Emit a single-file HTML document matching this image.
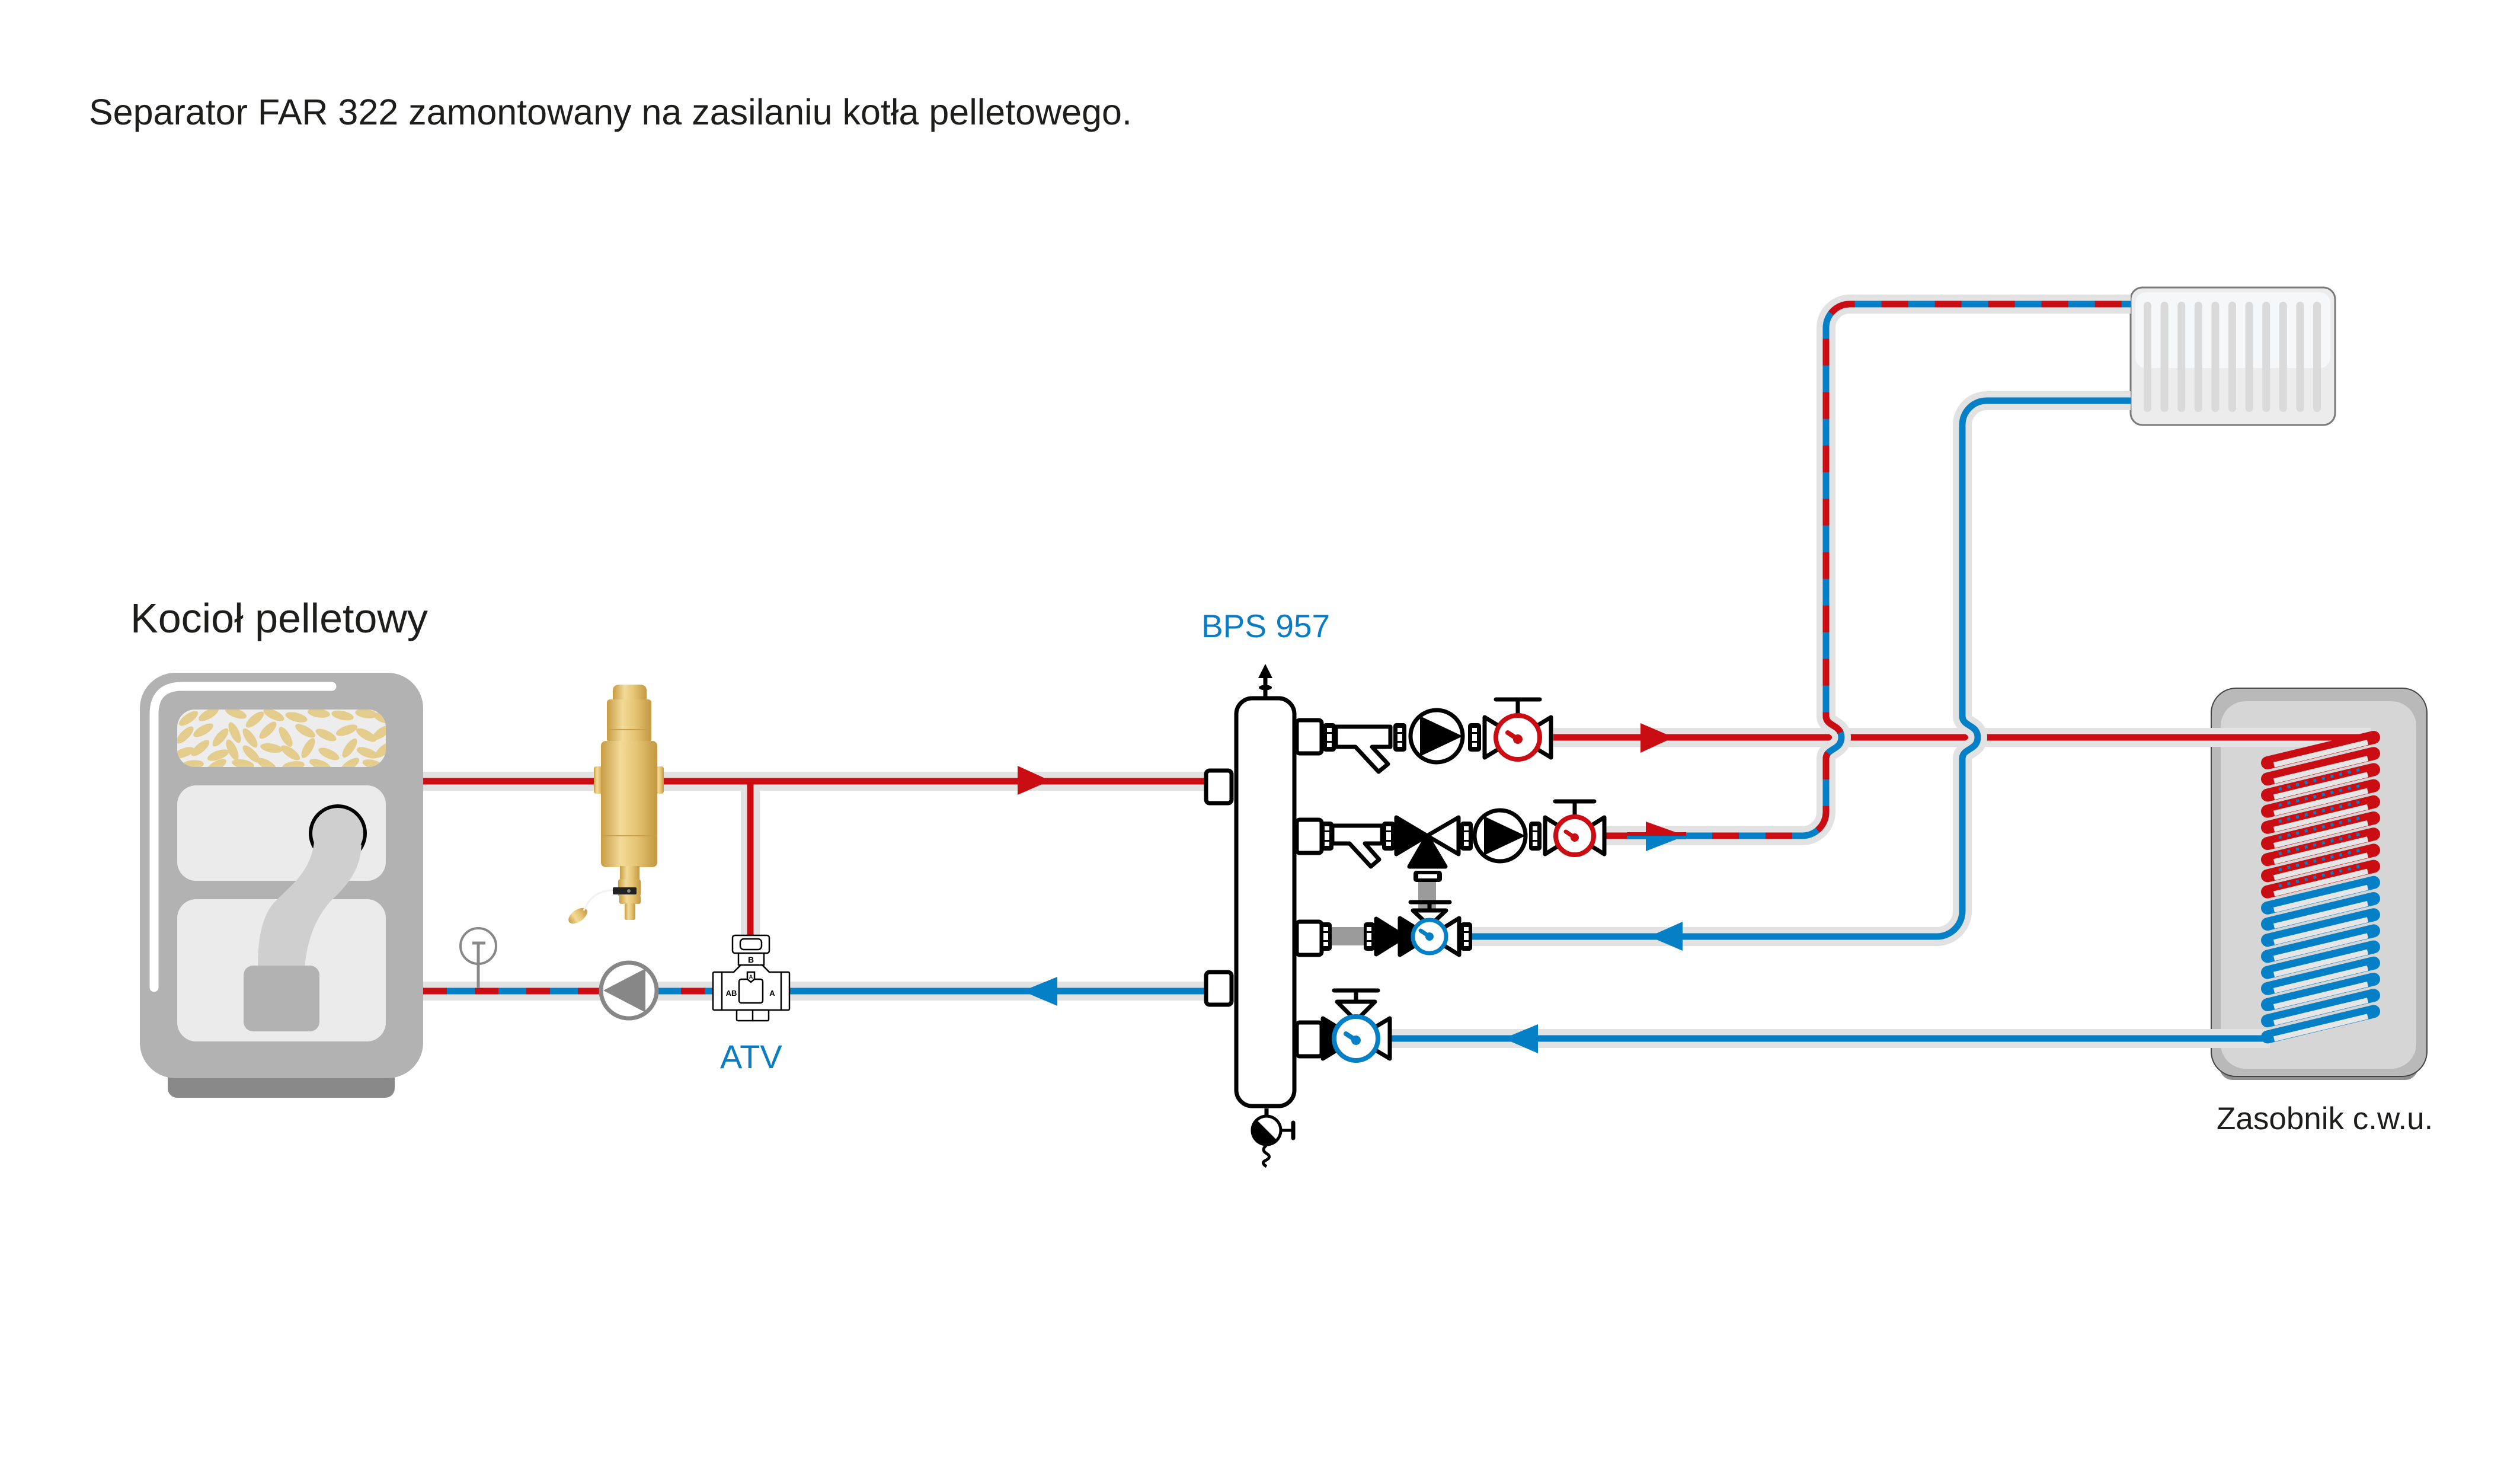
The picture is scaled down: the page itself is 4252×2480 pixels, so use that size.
<!DOCTYPE html>
<html><head><meta charset="utf-8">
<style>html,body{margin:0;padding:0;background:#fff;width:4252px;height:2480px;overflow:hidden}svg{display:block}</style>
</head><body>
<svg width="4252" height="2480" viewBox="0 0 4252 2480" xmlns="http://www.w3.org/2000/svg" xmlns:xlink="http://www.w3.org/1999/xlink">
<defs>
<linearGradient id="brass" x1="0" x2="1" y1="0" y2="0">
<stop offset="0" stop-color="#c89c44"/><stop offset="0.35" stop-color="#f2da98"/><stop offset="0.62" stop-color="#e6c575"/><stop offset="1" stop-color="#c39842"/>
</linearGradient>
<clipPath id="win"><rect x="299" y="1197" width="352" height="97" rx="30"/></clipPath>
<g id="cr"><line x1="3826" y1="1287" x2="4005" y2="1244" stroke="#c90d12" stroke-width="22" stroke-linecap="round"/><line x1="3837" y1="1290.4" x2="3995" y2="1252.4" stroke="#e6e6e6" stroke-width="9"/></g>
<g id="crd"><use xlink:href="#cr"/><line x1="3845" y1="1277" x2="3990" y2="1242" stroke="#0580c7" stroke-width="5" stroke-dasharray="5 10"/></g>
<g id="cb"><line x1="3826" y1="1287" x2="4005" y2="1244" stroke="#0580c7" stroke-width="22" stroke-linecap="round"/><line x1="3837" y1="1290.4" x2="3995" y2="1252.4" stroke="#e6e6e6" stroke-width="9"/></g>
</defs>

<!-- Title texts -->
<text x="150" y="210" font-family="Liberation Sans, sans-serif" font-size="61" fill="#1d1d1b">Separator FAR 322 zamontowany na zasilaniu kotła pelletowego.</text>
<text x="220" y="1067" font-family="Liberation Sans, sans-serif" font-size="70" fill="#1d1d1b">Kocioł pelletowy</text>
<text x="2027" y="1075" font-family="Liberation Sans, sans-serif" font-size="55" fill="#0a7cc4">BPS 957</text>
<text x="1215" y="1802" font-family="Liberation Sans, sans-serif" font-size="56" fill="#0a7cc4">ATV</text>
<text x="3740" y="1905" font-family="Liberation Sans, sans-serif" font-size="53" fill="#1d1d1b">Zasobnik c.w.u.</text>

<!-- Boiler -->
<rect x="283" y="1790" width="383" height="62" rx="16" fill="#898989"/>
<rect x="236" y="1135" width="478" height="684" rx="60" fill="#b2b2b2"/>
<path d="M260 1666 V1205 Q260 1158 307 1158 H560" stroke="#fff" stroke-width="15" stroke-linecap="round" fill="none"/>
<rect x="299" y="1197" width="352" height="97" rx="30" fill="#ededed"/>
<g clip-path="url(#win)" fill="#e3cc8c">
<ellipse cx="318" cy="1212" rx="19" ry="7.5" transform="rotate(-35 318 1212)"/>
<ellipse cx="352" cy="1205" rx="19" ry="7.5" transform="rotate(-30 352 1205)"/>
<ellipse cx="398" cy="1203" rx="19" ry="7.5" transform="rotate(20 398 1203)"/>
<ellipse cx="430" cy="1214" rx="19" ry="7.5" transform="rotate(-40 430 1214)"/>
<ellipse cx="462" cy="1206" rx="19" ry="7.5" transform="rotate(25 462 1206)"/>
<ellipse cx="500" cy="1210" rx="19" ry="7.5" transform="rotate(15 500 1210)"/>
<ellipse cx="538" cy="1203" rx="19" ry="7.5" transform="rotate(8 538 1203)"/>
<ellipse cx="578" cy="1207" rx="19" ry="7.5" transform="rotate(12 578 1207)"/>
<ellipse cx="618" cy="1204" rx="19" ry="7.5" transform="rotate(8 618 1204)"/>
<ellipse cx="648" cy="1212" rx="19" ry="7.5" transform="rotate(20 648 1212)"/>
<ellipse cx="312" cy="1240" rx="19" ry="7.5" transform="rotate(-45 312 1240)"/>
<ellipse cx="343" cy="1232" rx="19" ry="7.5" transform="rotate(-30 343 1232)"/>
<ellipse cx="372" cy="1244" rx="19" ry="7.5" transform="rotate(-50 372 1244)"/>
<ellipse cx="396" cy="1236" rx="19" ry="7.5" transform="rotate(65 396 1236)"/>
<ellipse cx="422" cy="1245" rx="19" ry="7.5" transform="rotate(55 422 1245)"/>
<ellipse cx="452" cy="1232" rx="19" ry="7.5" transform="rotate(-45 452 1232)"/>
<ellipse cx="482" cy="1243" rx="19" ry="7.5" transform="rotate(60 482 1243)"/>
<ellipse cx="515" cy="1233" rx="19" ry="7.5" transform="rotate(30 515 1233)"/>
<ellipse cx="550" cy="1240" rx="19" ry="7.5" transform="rotate(25 550 1240)"/>
<ellipse cx="585" cy="1232" rx="19" ry="7.5" transform="rotate(-20 585 1232)"/>
<ellipse cx="618" cy="1240" rx="19" ry="7.5" transform="rotate(30 618 1240)"/>
<ellipse cx="644" cy="1236" rx="19" ry="7.5" transform="rotate(-35 644 1236)"/>
<ellipse cx="310" cy="1270" rx="19" ry="7.5" transform="rotate(-20 310 1270)"/>
<ellipse cx="338" cy="1262" rx="19" ry="7.5" transform="rotate(-40 338 1262)"/>
<ellipse cx="368" cy="1274" rx="19" ry="7.5" transform="rotate(-20 368 1274)"/>
<ellipse cx="392" cy="1265" rx="19" ry="7.5" transform="rotate(65 392 1265)"/>
<ellipse cx="424" cy="1272" rx="19" ry="7.5" transform="rotate(45 424 1272)"/>
<ellipse cx="458" cy="1262" rx="19" ry="7.5" transform="rotate(10 458 1262)"/>
<ellipse cx="490" cy="1270" rx="19" ry="7.5" transform="rotate(35 490 1270)"/>
<ellipse cx="520" cy="1262" rx="19" ry="7.5" transform="rotate(-60 520 1262)"/>
<ellipse cx="555" cy="1272" rx="19" ry="7.5" transform="rotate(25 555 1272)"/>
<ellipse cx="590" cy="1262" rx="19" ry="7.5" transform="rotate(-55 590 1262)"/>
<ellipse cx="620" cy="1270" rx="19" ry="7.5" transform="rotate(20 620 1270)"/>
<ellipse cx="648" cy="1265" rx="19" ry="7.5" transform="rotate(-40 648 1265)"/>
<ellipse cx="325" cy="1290" rx="19" ry="7.5" transform="rotate(-5 325 1290)"/>
<ellipse cx="365" cy="1292" rx="19" ry="7.5" transform="rotate(-30 365 1292)"/>
<ellipse cx="410" cy="1289" rx="19" ry="7.5" transform="rotate(10 410 1289)"/>
<ellipse cx="450" cy="1290" rx="19" ry="7.5" transform="rotate(30 450 1290)"/>
<ellipse cx="495" cy="1292" rx="19" ry="7.5" transform="rotate(-8 495 1292)"/>
<ellipse cx="540" cy="1290" rx="19" ry="7.5" transform="rotate(20 540 1290)"/>
<ellipse cx="590" cy="1291" rx="19" ry="7.5" transform="rotate(-35 590 1291)"/>
<ellipse cx="630" cy="1290" rx="19" ry="7.5" transform="rotate(15 630 1290)"/>
</g>
<rect x="299" y="1325" width="352" height="161" rx="32" fill="#ebebeb"/>
<rect x="299" y="1517" width="352" height="240" rx="32" fill="#ebebeb"/>
<circle cx="570" cy="1406" r="46" fill="#cfcfcf" stroke="#000" stroke-width="6"/>
<path d="M530 1420 C525 1470 490 1495 465 1520 C440 1545 435 1590 435 1632 L514 1632 C518 1590 530 1550 560 1518 C590 1490 608 1465 610 1425 Z" fill="#cfcfcf"/>
<rect x="411" y="1629" width="128" height="111" rx="16" fill="#b2b2b2"/>

<!-- Tank -->
<rect x="3745" y="1760" width="335" height="62" rx="22" fill="#8f8f8f"/>
<rect x="3731" y="1161" width="364" height="655" rx="42" fill="#b9b9b9" stroke="#444" stroke-width="2"/>
<rect x="3747" y="1183" width="330" height="620" rx="42" fill="#d6d6d6"/>

<!-- Radiator -->
<rect x="3595" y="485" width="345" height="232" rx="20" fill="#ececec" stroke="#7a7a7a" stroke-width="3"/>
<rect x="3603" y="493" width="329" height="128" rx="18" fill="#f6f7f8"/>
<g fill="#dadada">
<rect x="3617" y="509" width="13" height="186" rx="6.5"/>
<rect x="3645.6" y="509" width="13" height="186" rx="6.5"/>
<rect x="3674.2" y="509" width="13" height="186" rx="6.5"/>
<rect x="3702.8" y="509" width="13" height="186" rx="6.5"/>
<rect x="3731.4" y="509" width="13" height="186" rx="6.5"/>
<rect x="3760" y="509" width="13" height="186" rx="6.5"/>
<rect x="3788.6" y="509" width="13" height="186" rx="6.5"/>
<rect x="3817.2" y="509" width="13" height="186" rx="6.5"/>
<rect x="3845.8" y="509" width="13" height="186" rx="6.5"/>
<rect x="3874.4" y="509" width="13" height="186" rx="6.5"/>
<rect x="3903" y="509" width="13" height="186" rx="6.5"/>
</g>

<!-- Straight pipes: casing -->
<g fill="none" stroke="#e2e2e2" stroke-width="32">
<path d="M714 1318H2032"/>
<path d="M1266 1318V1577"/>
<path d="M714 1672H1203"/>
<path d="M1332 1672H2032"/>
<path d="M2621 1244H4000"/>
<path d="M2348 1752H3830"/>
</g>
<g fill="none" stroke-width="11">
<path d="M714 1318H2032" stroke="#c90d12"/>
<path d="M1266 1318V1577" stroke="#c90d12"/>
<path d="M714 1672H1203" stroke="#0580c7"/>
<path d="M714 1672H1203" stroke="#c90d12" stroke-dasharray="40 47"/>
<path d="M1332 1672H2032" stroke="#0580c7"/>
<path d="M2621 1244H4006" stroke="#c90d12"/>
<path d="M2348 1752H3830" stroke="#0580c7"/>
</g>

<!-- Row 2 dashed to radiator -->
<path d="M2709 1410 H3041 A40 40 0 0 0 3081 1370 V1280 C3081 1262 3107 1266 3107 1244 C3107 1222 3081 1226 3081 1208 V553 A40 40 0 0 1 3121 513 H3595" fill="none" stroke="#e2e2e2" stroke-width="32"/>
<path d="M2709 1410 H3041 A40 40 0 0 0 3081 1370 V1280 C3081 1262 3107 1266 3107 1244 C3107 1222 3081 1226 3081 1208 V553 A40 40 0 0 1 3121 513 H3595" fill="none" stroke="#0580c7" stroke-width="11"/>
<path d="M2709 1410 H3041 A40 40 0 0 0 3081 1370 V1280 C3081 1262 3107 1266 3107 1244 C3107 1222 3081 1226 3081 1208 V553 A40 40 0 0 1 3121 513 H3595" fill="none" stroke="#c90d12" stroke-width="11" stroke-dasharray="45 45"/>

<!-- Radiator return -->
<path d="M3595 676 H3352 A41 41 0 0 0 3311 717 V1208 C3311 1226 3337 1222 3337 1244 C3337 1266 3311 1262 3311 1280 V1537 A43 43 0 0 1 3268 1580 H2482" fill="none" stroke="#e2e2e2" stroke-width="32"/>
<path d="M3595 676 H3352 A41 41 0 0 0 3311 717 V1208 C3311 1226 3337 1222 3337 1244 C3337 1266 3311 1262 3311 1280 V1537 A43 43 0 0 1 3268 1580 H2482" fill="none" stroke="#0580c7" stroke-width="11"/>

<!-- Coil -->
<use xlink:href="#cr"/>
<use xlink:href="#cr" y="27.2"/>
<use xlink:href="#crd" y="54.4"/>
<use xlink:href="#crd" y="81.6"/>
<use xlink:href="#crd" y="108.8"/>
<use xlink:href="#crd" y="136"/>
<use xlink:href="#crd" y="163.2"/>
<use xlink:href="#crd" y="190.4"/>
<use xlink:href="#crd" y="217.6"/>
<use xlink:href="#cb" y="244.8"/>
<use xlink:href="#cb" y="272"/>
<use xlink:href="#cb" y="299.2"/>
<use xlink:href="#cb" y="326.4"/>
<use xlink:href="#cb" y="353.6"/>
<use xlink:href="#cb" y="380.8"/>
<use xlink:href="#cb" y="408"/>
<use xlink:href="#cb" y="435.2"/>
<use xlink:href="#cb" y="462.4"/>

<!-- Arrows -->
<path d="M1717 1292 L1772 1317 L1717 1341 Z" fill="#c90d12"/>
<path d="M1784 1648 L1725 1672 L1784 1697 Z" fill="#0580c7"/>
<path d="M2768 1220 L2824 1244 L2768 1270 Z" fill="#c90d12"/>
<rect x="2745" y="1404" width="100" height="6" fill="#c90d12"/>
<rect x="2745" y="1410" width="100" height="6" fill="#0580c7"/>
<path d="M2777 1386 L2844 1410 L2777 1410 Z" fill="#c90d12"/>
<path d="M2777 1410 L2844 1410 L2777 1436 Z" fill="#0580c7"/>
<path d="M2839 1555 L2783 1580 L2839 1604 Z" fill="#0580c7"/>
<path d="M2595 1728 L2537 1752 L2595 1777 Z" fill="#0580c7"/>

<!-- Separator -->
<g fill="url(#brass)">
<path d="M1034 1182 V1165 Q1034 1155 1046 1155 H1079 Q1091 1155 1091 1165 V1182 Z"/>
<rect x="1024" y="1180" width="75" height="72" rx="5"/>
<rect x="1002" y="1293" width="15" height="46" rx="4"/>
<rect x="1106" y="1293" width="14" height="46" rx="4"/>
<rect x="1014" y="1250" width="95" height="213" rx="8"/>
<rect x="1046" y="1461" width="33" height="24"/>
<rect x="1043" y="1483" width="38" height="30" rx="4"/>
<rect x="1045" y="1511" width="36" height="14" rx="3"/>
<rect x="1054" y="1524" width="18" height="28" rx="3"/>
<ellipse cx="975" cy="1545" rx="18" ry="10" transform="rotate(-35 975 1545)"/>
</g>
<line x1="1024" y1="1231" x2="1099" y2="1231" stroke="#c9a14c" stroke-width="2"/>
<line x1="1014" y1="1410" x2="1109" y2="1410" stroke="#c9a14c" stroke-width="2"/>
<path d="M985 1536 Q1000 1500 1040 1502" fill="none" stroke="#f2f2f2" stroke-width="3"/>
<rect x="1034" y="1497" width="40" height="12" rx="2" fill="#222"/>
<circle cx="1061" cy="1503" r="3" fill="#888"/>

<!-- Thermometer -->
<circle cx="807" cy="1596" r="30" fill="none" stroke="#888" stroke-width="4"/>
<line x1="797" y1="1591" x2="819" y2="1591" stroke="#888" stroke-width="5"/>
<line x1="807" y1="1591" x2="807" y2="1667" stroke="#888" stroke-width="5"/>

<!-- Return pump -->
<circle cx="1061" cy="1671" r="47" fill="#fff" stroke="#878787" stroke-width="7"/>
<path d="M1089 1634 L1018 1671 L1089 1708 Z" fill="#878787"/>

<!-- ATV -->
<g stroke="#000" stroke-width="2.5" fill="#fff">
<rect x="1203" y="1640" width="16" height="64" rx="2"/>
<rect x="1317" y="1640" width="15" height="64" rx="2"/>
<path d="M1218 1640 H1238 L1250 1628 H1286 L1298 1640 H1318 V1704 H1218 Z"/>
<rect x="1246" y="1606" width="43" height="22"/>
<rect x="1236" y="1578" width="62" height="30" rx="4"/>
<rect x="1249" y="1584" width="36" height="18" rx="6"/>
<rect x="1243" y="1704" width="54" height="18" rx="2"/>
<line x1="1270" y1="1704" x2="1270" y2="1722"/>
<rect x="1247" y="1652" width="40" height="40" rx="4"/>
<path d="M1261 1652 V1640 H1273 V1652 L1267 1657 Z"/>
</g>
<g font-family="Liberation Sans, sans-serif" font-weight="bold" fill="#000">
<text x="1267" y="1624" font-size="14" text-anchor="middle">B</text>
<text x="1234" y="1680" font-size="13" text-anchor="middle">AB</text>
<text x="1303" y="1680" font-size="13" text-anchor="middle">A</text>
<text x="1267" y="1651" font-size="9" text-anchor="middle">A</text>
</g>

<!-- BPS manifold -->
<g stroke="#000" stroke-width="7" fill="#fff" stroke-linejoin="round">
<line x1="2135" y1="1175" x2="2135" y2="1138"/>
<line x1="2137" y1="1870" x2="2137" y2="1884"/>
<rect x="2086" y="1178" width="98" height="688" rx="27"/>
<rect x="2035" y="1300" width="43" height="55" rx="6"/>
<rect x="2035" y="1640" width="43" height="55" rx="6"/>
<rect x="2188" y="1215" width="42" height="56" rx="5"/>
<rect x="2188" y="1383" width="42" height="56" rx="5"/>
<rect x="2188" y="1555" width="42" height="56" rx="5"/>
<rect x="2188" y="1725" width="42" height="57" rx="5"/>
</g>
<ellipse cx="2135" cy="1160" rx="11" ry="4.5" fill="#000"/>
<path d="M2123 1144 L2135 1120 L2147 1144 Z" fill="#000"/>
<circle cx="2137" cy="1907" r="25" fill="#000"/>
<path d="M2120 1889 A25 25 0 0 1 2155 1924 Z" fill="#fff"/>
<circle cx="2137" cy="1907" r="24" fill="none" stroke="#000" stroke-width="5"/>
<line x1="2160" y1="1907" x2="2182" y2="1907" stroke="#000" stroke-width="5"/>
<line x1="2182" y1="1894" x2="2182" y2="1920" stroke="#000" stroke-width="7" stroke-linecap="round"/>
<path d="M2137 1932 q-10 8 0 14 q10 6 -2 12 q-8 4 2 10" fill="none" stroke="#000" stroke-width="5"/>

<!-- gray bypass pieces -->
<rect x="2246" y="1564" width="58" height="31" fill="#9b9b9b"/>
<rect x="2393" y="1485" width="30" height="60" fill="#9b9b9b"/>

<!-- strainers -->
<g stroke="#000" stroke-width="7" fill="#fff" stroke-linejoin="round">
<path d="M2254 1226 H2346 V1260 H2315 L2342 1289 L2326 1302 L2287 1260 H2254 Z"/>
<path d="M2248 1393 H2332 V1423 H2303 L2327 1450 L2313 1462 L2277 1423 H2248 Z"/>
</g>

<!-- unions -->
<g fill="#000">
<rect x="2232" y="1220" width="22" height="48" rx="5"/>
<rect x="2351" y="1220" width="22" height="48" rx="5"/>
<rect x="2477" y="1220" width="22" height="48" rx="5"/>
<rect x="2229" y="1386" width="21" height="49" rx="5"/>
<rect x="2332" y="1386" width="22" height="49" rx="5"/>
<rect x="2464" y="1386" width="21" height="49" rx="5"/>
<rect x="2580" y="1386" width="21" height="49" rx="5"/>
<rect x="2228" y="1556" width="19" height="48" rx="5"/>
<rect x="2301" y="1556" width="19" height="48" rx="5"/>
<rect x="2464" y="1556" width="20" height="48" rx="5"/>
<rect x="2385" y="1469" width="48" height="19" rx="5"/>
</g>
<g fill="#fff">
<rect x="2239" y="1228" width="8" height="32"/>
<rect x="2358" y="1228" width="8" height="32"/>
<rect x="2484" y="1228" width="8" height="32"/>
<rect x="2235" y="1394" width="8" height="33"/>
<rect x="2339" y="1394" width="8" height="33"/>
<rect x="2470" y="1394" width="8" height="33"/>
<rect x="2586" y="1394" width="8" height="33"/>
<rect x="2233" y="1564" width="8" height="32"/>
<rect x="2306" y="1564" width="8" height="32"/>
<rect x="2470" y="1564" width="8" height="32"/>
<rect x="2393" y="1475" width="32" height="7"/>
</g>
<g fill="#000">
<rect x="2239" y="1235" width="8" height="3"/><rect x="2239" y="1250" width="8" height="3"/>
<rect x="2358" y="1235" width="8" height="3"/><rect x="2358" y="1250" width="8" height="3"/>
<rect x="2484" y="1235" width="8" height="3"/><rect x="2484" y="1250" width="8" height="3"/>
<rect x="2235" y="1401" width="8" height="3"/><rect x="2235" y="1417" width="8" height="3"/>
<rect x="2339" y="1401" width="8" height="3"/><rect x="2339" y="1417" width="8" height="3"/>
<rect x="2470" y="1401" width="8" height="3"/><rect x="2470" y="1417" width="8" height="3"/>
<rect x="2586" y="1401" width="8" height="3"/><rect x="2586" y="1417" width="8" height="3"/>
<rect x="2233" y="1571" width="8" height="3"/><rect x="2233" y="1586" width="8" height="3"/>
<rect x="2306" y="1571" width="8" height="3"/><rect x="2306" y="1586" width="8" height="3"/>
<rect x="2470" y="1571" width="8" height="3"/><rect x="2470" y="1586" width="8" height="3"/>
</g>

<!-- pumps -->
<circle cx="2424" cy="1242" r="44" fill="#fff" stroke="#000" stroke-width="7"/>
<path d="M2396 1208 L2468 1242 L2396 1276 Z" fill="#000"/>
<circle cx="2531" cy="1410" r="43" fill="#fff" stroke="#000" stroke-width="7"/>
<path d="M2504 1377 L2574 1410 L2504 1443 Z" fill="#000"/>

<!-- 3-way valve -->
<g stroke="#000" stroke-width="7" stroke-linejoin="round">
<path d="M2356 1379 L2408 1410 L2356 1441 Z" fill="#000"/>
<path d="M2461 1379 L2408 1410 L2461 1441 Z" fill="#fff"/>
<path d="M2378 1462 L2408 1410 L2439 1462 Z" fill="#000"/>
</g>

<!-- Row 1 valve -->
<g stroke="#000" stroke-width="7" stroke-linejoin="round" stroke-linecap="round">
<line x1="2561" y1="1207" x2="2561" y2="1180"/>
<line x1="2524" y1="1180" x2="2598" y2="1180"/>
<path d="M2505 1210 L2561 1244 L2505 1278 Z" fill="#fff"/>
<path d="M2617 1210 L2561 1244 L2617 1278 Z" fill="#fff"/>
</g>
<circle cx="2561" cy="1244" r="37" fill="#fff" stroke="#c90d12" stroke-width="8"/>
<line x1="2561" y1="1247" x2="2544" y2="1236" stroke="#c90d12" stroke-width="8" stroke-linecap="round"/>
<circle cx="2561" cy="1247" r="8" fill="#c90d12"/>

<!-- Row 2 valve -->
<g stroke="#000" stroke-width="7" stroke-linejoin="round" stroke-linecap="round">
<line x1="2657" y1="1380" x2="2657" y2="1352"/>
<line x1="2624" y1="1352" x2="2690" y2="1352"/>
<path d="M2607 1379 L2657 1410 L2607 1441 Z" fill="#fff"/>
<path d="M2707 1379 L2657 1410 L2707 1441 Z" fill="#fff"/>
</g>
<circle cx="2657" cy="1410" r="32" fill="#fff" stroke="#c90d12" stroke-width="8"/>
<line x1="2657" y1="1413" x2="2642" y2="1403" stroke="#c90d12" stroke-width="7" stroke-linecap="round"/>
<circle cx="2657" cy="1413" r="7" fill="#c90d12"/>

<!-- Row 3 valve -->
<g stroke="#000" stroke-width="7" stroke-linejoin="round" stroke-linecap="round">
<line x1="2412" y1="1522" x2="2412" y2="1536"/>
<line x1="2380" y1="1522" x2="2446" y2="1522"/>
<path d="M2384 1536 L2440 1536 L2412 1562 Z" fill="#fff"/>
<path d="M2322 1550 L2370 1580 L2322 1610 Z" fill="#000"/>
<path d="M2362 1549 L2412 1580 L2362 1611 Z" fill="#000"/>
<path d="M2462 1549 L2412 1580 L2462 1611 Z" fill="#fff"/>
</g>
<circle cx="2412" cy="1580" r="28" fill="#fff" stroke="#0580c7" stroke-width="7"/>
<line x1="2412" y1="1580" x2="2397" y2="1570" stroke="#0580c7" stroke-width="7" stroke-linecap="round"/>
<circle cx="2412" cy="1580" r="7" fill="#0580c7"/>

<!-- Row 4 valve -->
<g stroke="#000" stroke-width="7" stroke-linejoin="round" stroke-linecap="round">
<line x1="2288" y1="1671" x2="2288" y2="1690"/>
<line x1="2251" y1="1671" x2="2325" y2="1671"/>
<path d="M2256 1690 L2320 1690 L2288 1722 Z" fill="#fff"/>
<path d="M2232 1718 L2288 1752 L2232 1786 Z" fill="#000"/>
<path d="M2345 1718 L2288 1752 L2345 1786 Z" fill="#fff"/>
</g>
<circle cx="2288" cy="1752" r="37" fill="#fff" stroke="#0580c7" stroke-width="8"/>
<line x1="2288" y1="1755" x2="2271" y2="1744" stroke="#0580c7" stroke-width="8" stroke-linecap="round"/>
<circle cx="2288" cy="1755" r="8" fill="#0580c7"/>
</svg>
</body></html>
